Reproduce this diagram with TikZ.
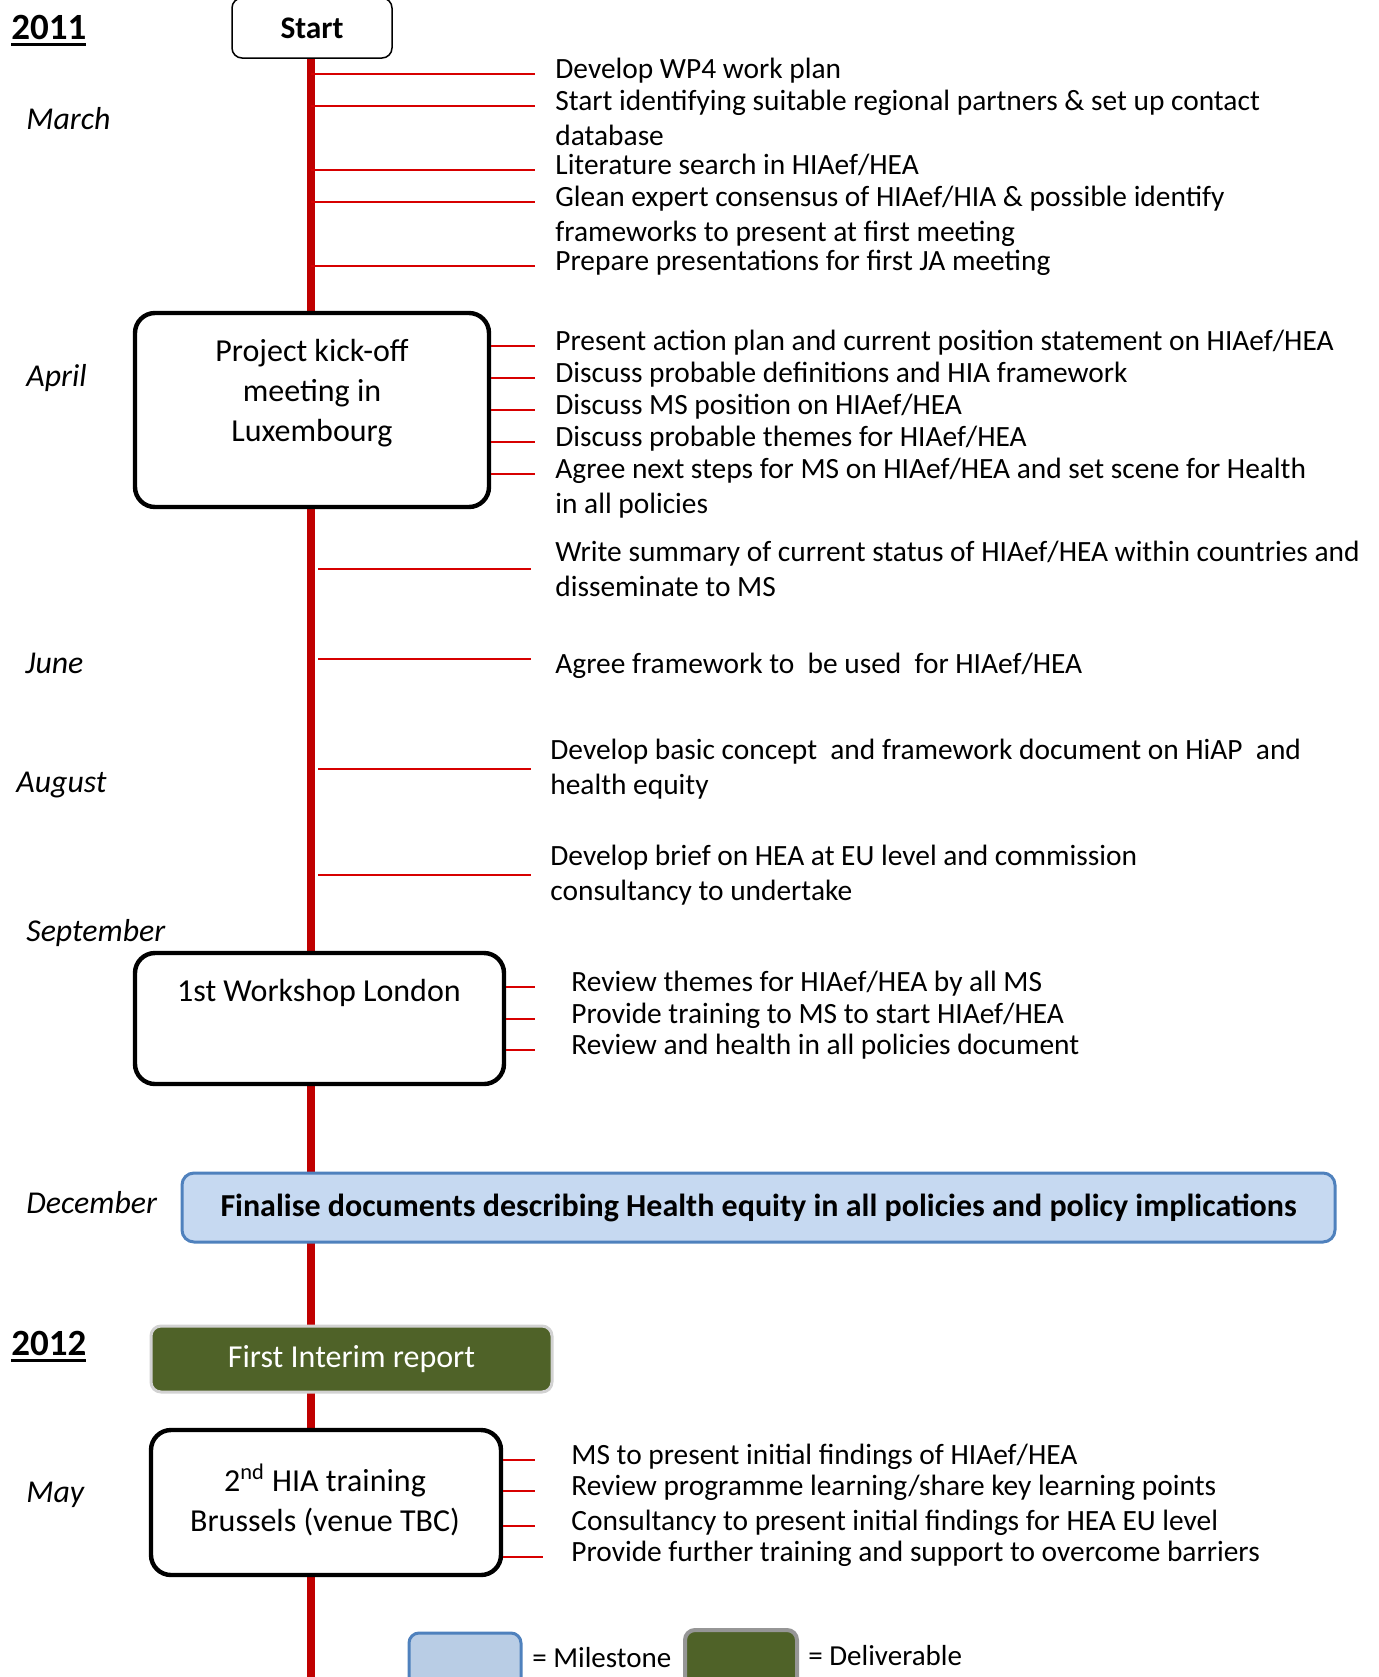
\documentclass[tikz,border=0pt]{standalone}
\usepackage{fontspec}
\setmainfont{Carlito}
\usepackage{tikz}
\usetikzlibrary{positioning}

\definecolor{spinered}{RGB}{192,0,0}
\definecolor{tickred}{RGB}{215,0,0}
\definecolor{mileblue}{RGB}{198,217,241}
\definecolor{keyblue}{RGB}{185,205,229}
\definecolor{mileedge}{RGB}{79,129,189}
\definecolor{delivgreen}{RGB}{79,98,40}
\definecolor{delivedge}{RGB}{210,210,210}
\definecolor{keygrey}{RGB}{150,150,150}

\newcommand\yearmark[1]{\setbox0\hbox{#1}\rlap{\rule[-3.5pt]{\wd0}{1.5pt}}\box0}
\newcommand\twolines[2]{\begin{tabular}[t]{@{}l@{}}#1\\#2\end{tabular}}

\tikzset{
	spine/.style={spinered,line width=3.75pt},
	tick/.style={tickred,line width=0.7pt},
	yearlabel/.style={anchor=base west,inner sep=0pt,font=\fontsize{18.5}{22}\selectfont\bfseries},
	month/.style={anchor=base west,inner sep=0pt,font=\fontsize{15.9}{18}\selectfont\itshape},
	item/.style={anchor=mid west,inner sep=0pt,align=left,font=\fontsize{14.7}{17.2}\selectfont},
	event/.style={draw,fill=white,rounded corners=10pt,line width=2.2pt},
	eventtext/.style={inner sep=0pt,align=center,font=\fontsize{16}{20}\selectfont},
	keytext/.style={anchor=base west,inner sep=0pt,font=\fontsize{14.5}{17}\selectfont}
}

\begin{document}
\begin{tikzpicture}[x=0.5pt,y=-0.5pt]
	\useasboundingbox (0,0) rectangle (1378,1677);
	% time axis
	\coordinate (top) at (311,58);
	\coordinate (bottom) at (311,1677);
	\draw[spine]
	(top) -- (bottom);

	% years and months
	\node[yearlabel] (y2011) at (11,39) {\yearmark{2011}};
	\node[yearlabel] (y2012) at (11,1355) {\yearmark{2012}};
	\node[month] (march) at (26,129) {March};
	\node[month] (april) at (26,386) {April};
	\node[month] (june) at (25,673) {June};
	\node[month] (august) at (16,792) {August};
	\node[month] (september) at (26,941) {September};
	\node[month] (december) at (26,1213) {December};
	\node[month] (may) at (26,1502) {May};

	% boxes on the axis
	\node[draw,fill=white,rounded corners=5pt,line width=0.75pt,
		minimum width=80pt,minimum height=30pt,
		font=\fontsize{15.7}{18}\selectfont\bfseries] (start) at (312,28) {Start};
	\node[event,minimum width=177pt,minimum height=97pt] (kick) at (312,410) {};
	\node[eventtext] (kicktext) at (312,393) {Project kick-off\\meeting in\\Luxembourg};
	\node[event,minimum width=184.5pt,minimum height=65.5pt] (work) at (319.5,1018.5) {};
	\node[eventtext] (worktext) at (319,993) {1st Workshop London};
	\node[draw=mileedge,fill=mileblue,line width=1.5pt,rounded corners=6pt,
		minimum width=576.5pt,minimum height=34.5pt,
		font=\fontsize{16}{18}\selectfont\bfseries] (final) at (758.5,1207.5)
		{Finalise documents describing Health equity in all policies and policy implications};
	\node[draw=delivedge,fill=delivgreen,line width=1.5pt,rounded corners=5pt,
		minimum width=200.5pt,minimum height=33pt,text=white,
		font=\fontsize{16}{18}\selectfont] (report) at (351.5,1359) {First Interim report};
	\node[event,minimum width=175pt,minimum height=72.5pt] (train) at (326,1502.5) {};
	\node[eventtext] (traintext) at (325,1500) {2\textsuperscript{nd} HIA training\\Brussels (venue TBC)};

	% March
	\node[item] (plan) at (555,74) {Develop WP4 work plan};
	\node[item] (partners) at (555,106) {\twolines{Start identifying suitable regional partners \& set up contact}{database}};
	\node[item] (litsearch) at (555,170) {Literature search in HIAef/HEA};
	\node[item] (consensus) at (555,202) {\twolines{Glean expert consensus of HIAef/HIA \& possible identify}{frameworks to present at first meeting}};
	\node[item] (slides) at (555,266) {Prepare presentations for first JA meeting};
	\draw[tick]
	(top |- plan.mid west) -- ([xshift=-10pt]plan.mid west);
	\draw[tick]
	(top |- partners.mid west) -- ([xshift=-10pt]partners.mid west);
	\draw[tick]
	(top |- litsearch.mid west) -- ([xshift=-10pt]litsearch.mid west);
	\draw[tick]
	(top |- consensus.mid west) -- ([xshift=-10pt]consensus.mid west);
	\draw[tick]
	(top |- slides.mid west) -- ([xshift=-10pt]slides.mid west);

	% April
	\node[item] (actionplan) at (555,346) {Present action plan and current position statement on HIAef/HEA};
	\node[item] (definitions) at (555,378) {Discuss probable definitions and HIA framework};
	\node[item] (position) at (555,410) {Discuss MS position on HIAef/HEA};
	\node[item] (themes) at (555,442) {Discuss probable themes for HIAef/HEA};
	\node[item] (nextsteps) at (555,474) {\twolines{Agree next steps for MS on HIAef/HEA and set scene for Health}{in all policies}};
	\draw[tick]
	(kick.east |- actionplan.mid west) -- ([xshift=-10pt]actionplan.mid west);
	\draw[tick]
	(kick.east |- definitions.mid west) -- ([xshift=-10pt]definitions.mid west);
	\draw[tick]
	(kick.east |- position.mid west) -- ([xshift=-10pt]position.mid west);
	\draw[tick]
	(kick.east |- themes.mid west) -- ([xshift=-10pt]themes.mid west);
	\draw[tick]
	(kick.east |- nextsteps.mid west) -- ([xshift=-10pt]nextsteps.mid west);

	% between the meetings
	\coordinate (junetick) at (318,659);
	\node[item,anchor=west] (summary) at (555,569) {Write summary of current status of HIAef/HEA within countries and\\disseminate to MS};
	\node[item] (framework) at (555,669) {Agree framework to~ be used~ for HIAef/HEA};
	\node[item,anchor=west] (concept) at (550,769) {Develop basic concept~ and framework document on HiAP~ and\\health equity};
	\node[item,anchor=west] (brief) at (550,875) {Develop brief on HEA at EU level and commission\\consultancy to undertake};
	\draw[tick]
	([xshift=3.5pt]top |- summary.west) -- ([xshift=-12pt]summary.west);
	\draw[tick]
	(junetick) -- ([xshift=-12pt]junetick -| framework.west);
	\draw[tick]
	([xshift=3.5pt]top |- concept.west) -- ([xshift=-9.5pt]concept.west);
	\draw[tick]
	([xshift=3.5pt]top |- brief.west) -- ([xshift=-9.5pt]brief.west);

	% workshop
	\node[item] (review) at (571,987) {Review themes for HIAef/HEA by all MS};
	\node[item] (training) at (571,1019) {Provide training to MS to start HIAef/HEA};
	\node[item] (hiap) at (571,1050) {Review and health in all policies document};
	\draw[tick]
	(work.east |- review.mid west) -- ([xshift=-18pt]review.mid west);
	\draw[tick]
	(work.east |- training.mid west) -- ([xshift=-18pt]training.mid west);
	\draw[tick]
	(work.east |- hiap.mid west) -- ([xshift=-18pt]hiap.mid west);

	% May 2012
	\node[item] (findings) at (571,1460) {MS to present initial findings of HIAef/HEA};
	\node[item] (learning) at (571,1491) {Review programme learning/share key learning points};
	\node[item] (consult) at (571,1526) {Consultancy to present initial findings for HEA EU level};
	\node[item] (support) at (571,1557) {Provide further training and support to overcome barriers};
	\draw[tick]
	(train.east |- findings.mid west) -- ([xshift=-18pt]findings.mid west);
	\draw[tick]
	(train.east |- learning.mid west) -- ([xshift=-18pt]learning.mid west);
	\draw[tick]
	(train.east |- consult.mid west) -- ([xshift=-18pt]consult.mid west);
	\draw[tick]
	(train.east |- support.mid west) -- ([xshift=-14pt]support.mid west);

	% key
	\node[draw=mileedge,fill=keyblue,line width=1.5pt,rounded corners=5pt,
		minimum width=56pt,minimum height=35pt] (keymile) at (465,1668) {};
	\node[keytext] (keymiletext) at (532,1667) {= Milestone};
	\node[draw=keygrey,fill=delivgreen,line width=2pt,rounded corners=5pt,
		minimum width=56pt,minimum height=35pt] (keydeliv) at (741,1665) {};
	\node[keytext] (keydelivtext) at (808,1665) {= Deliverable};
\end{tikzpicture}
\end{document}
